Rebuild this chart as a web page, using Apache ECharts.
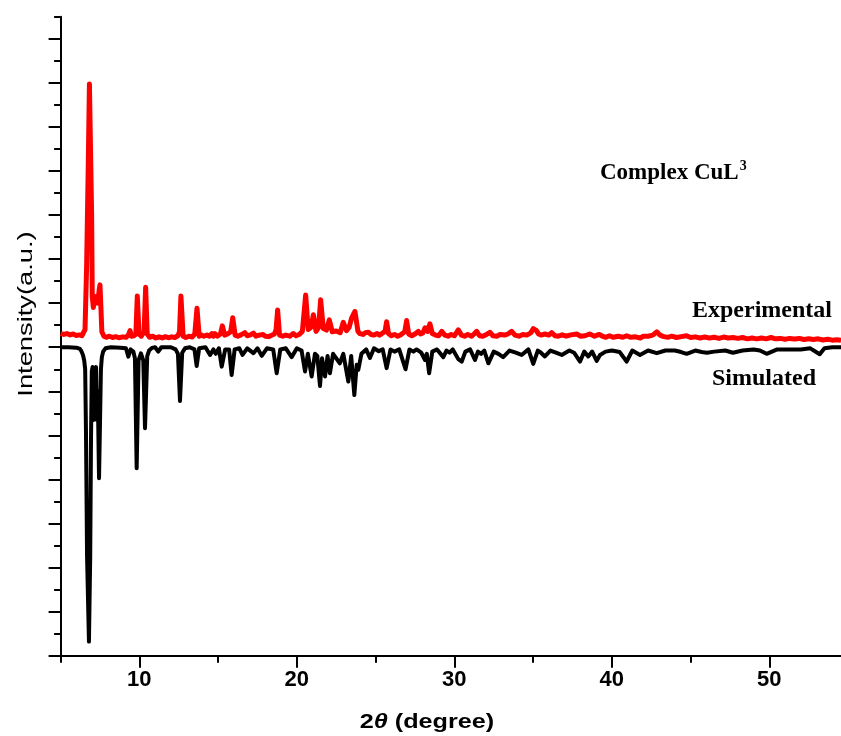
<!DOCTYPE html>
<html><head><meta charset="utf-8">
<script src="https://cdn.jsdelivr.net/npm/echarts@6/dist/echarts.min.js"></script>
<style>html,body{margin:0;padding:0;background:#fff;overflow:hidden}#c{width:841px;height:736px}</style>
</head><body><div id="c"></div>
<script>
// Experimental pattern (red), [2theta, intensity]
const experimental = [
[5.0,0.62],[5.2,0.58],[5.4,0.62],[5.6,0.56],[5.8,0.6],[6.0,0.53],[6.2,0.56],[6.35,0.52],[6.45,0.58],[6.55,0.8],[6.65,3.6],[6.75,8],[6.83,11.95],[6.92,11.9],[6.97,6],[7.01,2.3],[7.08,1.8],[7.14,2.3],[7.2,2.0],[7.28,2.3],[7.36,2.0],[7.45,2.6],[7.5,2.83],[7.56,1.8],[7.62,0.7],
[7.75,0.5],[7.9,0.45],[8.1,0.5],[8.3,0.44],[8.5,0.48],[8.7,0.43],[8.95,0.47],[9.15,0.45],[9.3,0.55],[9.41,0.75],[9.5,0.5],[9.65,0.52],[9.78,0.6],[9.87,2.33],[9.98,0.6],[10.12,0.5],[10.3,0.7],[10.4,2.72],[10.5,0.6],[10.65,0.45],[10.85,0.5],[11.05,0.42],[11.25,0.47],[11.45,0.42],[11.65,0.48],[11.85,0.43],[12.05,0.47],[12.25,0.44],[12.45,0.52],[12.55,0.7],[12.64,2.33],[12.78,0.5],[12.95,0.44],[13.15,0.5],[13.35,0.46],[13.52,0.6],[13.66,1.77],[13.8,0.5],[13.95,0.55],[14.1,0.5],[14.3,0.55],[14.45,0.5],[14.61,0.62],[14.7,0.5],[14.8,0.62],[14.95,0.5],[15.15,0.6],[15.27,0.97],[15.42,0.55],[15.6,0.6],[15.8,0.7],[15.93,1.34],[16.08,0.55],[16.25,0.5],[16.45,0.56],[16.7,0.66],[16.85,0.52],[17.05,0.56],[17.24,0.64],[17.4,0.5],[17.6,0.55],[17.85,0.58],[18.0,0.5],[18.2,0.48],[18.4,0.54],[18.58,0.6],[18.68,0.8],[18.78,1.69],[18.9,0.55],[19.1,0.5],[19.3,0.55],[19.55,0.5],[19.77,0.62],[19.95,0.52],[20.15,0.58],[20.35,0.72],[20.56,2.37],[20.72,0.8],[20.9,0.9],[21.05,1.47],[21.22,0.72],[21.38,0.9],[21.51,2.15],[21.68,0.85],[21.88,0.78],[22.06,1.24],[22.25,0.7],[22.5,0.74],[22.75,0.66],[22.95,1.13],[23.15,0.75],[23.32,0.9],[23.48,1.33],[23.69,1.62],[23.88,0.72],[24.0,0.62],[24.2,0.58],[24.35,0.66],[24.54,0.68],[24.7,0.58],[24.9,0.55],[25.1,0.62],[25.25,0.55],[25.4,0.62],[25.6,0.72],[25.7,1.16],[25.82,0.62],[26.0,0.52],[26.2,0.58],[26.4,0.5],[26.6,0.57],[26.85,0.7],[26.97,1.21],[27.1,0.6],[27.3,0.52],[27.5,0.6],[27.71,0.72],[27.85,0.6],[28.0,0.65],[28.14,0.88],[28.3,0.72],[28.45,1.06],[28.6,0.62],[28.8,0.55],[29.0,0.52],[29.2,0.72],[29.4,0.55],[29.6,0.5],[29.8,0.58],[30.0,0.52],[30.25,0.79],[30.45,0.55],[30.65,0.5],[30.85,0.58],[31.1,0.5],[31.25,0.6],[31.42,0.72],[31.6,0.52],[31.8,0.5],[32.0,0.56],[32.26,0.68],[32.45,0.52],[32.7,0.5],[32.9,0.58],[33.2,0.55],[33.4,0.6],[33.64,0.72],[33.85,0.55],[34.1,0.5],[34.35,0.58],[34.6,0.55],[34.85,0.65],[35.01,0.84],[35.2,0.76],[35.35,0.6],[35.5,0.55],[35.75,0.6],[36.0,0.55],[36.18,0.66],[36.4,0.52],[36.6,0.5],[36.85,0.56],[37.1,0.5],[37.4,0.56],[37.77,0.6],[38.0,0.5],[38.3,0.52],[38.6,0.6],[38.9,0.5],[39.2,0.58],[39.4,0.5],[39.6,0.45],[39.85,0.52],[40.1,0.45],[40.4,0.5],[40.7,0.45],[40.94,0.52],[41.2,0.45],[41.5,0.47],[41.8,0.42],[42.0,0.5],[42.3,0.5],[42.6,0.55],[42.85,0.7],[43.05,0.55],[43.3,0.48],[43.55,0.45],[43.8,0.5],[44.1,0.44],[44.4,0.48],[44.75,0.52],[45.0,0.44],[45.3,0.47],[45.6,0.42],[45.9,0.46],[46.2,0.42],[46.5,0.45],[46.8,0.4],[47.1,0.46],[47.4,0.42],[47.7,0.44],[48.0,0.4],[48.3,0.44],[48.6,0.38],[48.9,0.42],[49.2,0.38],[49.5,0.42],[49.8,0.38],[50.1,0.44],[50.4,0.38],[50.7,0.4],[51.0,0.36],[51.3,0.4],[51.6,0.37],[51.9,0.4],[52.2,0.35],[52.5,0.38],[52.8,0.35],[53.1,0.38],[53.4,0.33],[53.7,0.36],[54.0,0.32],[54.3,0.34],[54.55,0.32]
];
// Simulated pattern (black, plotted downward)
const simulated = [
[5.0,0],[5.5,0],[6.0,-0.02],[6.23,-0.08],[6.32,-0.18],[6.42,-0.35],[6.5,-0.6],[6.56,-1.0],[6.61,-3.75],[6.68,-9.5],[6.8,-13.36],[6.88,-9.5],[6.93,-4.2],[6.98,-1.1],[7.03,-0.9],[7.08,-3.3],[7.14,-3.2],[7.2,-1.0],[7.25,-0.9],[7.3,-3.3],[7.36,-2.0],[7.44,-5.95],[7.5,-3.5],[7.56,-1.0],[7.62,-0.45],[7.7,-0.2],[7.85,-0.05],
[8.2,0],[8.8,-0.02],[9.15,-0.05],[9.3,-0.43],[9.45,-0.1],[9.62,-0.2],[9.72,-0.5],[9.83,-5.49],[9.95,-0.6],[10.1,-0.28],[10.25,-0.6],[10.36,-3.68],[10.5,-0.4],[10.62,-0.15],[10.8,-0.03],[11.0,0],[11.2,-0.2],[11.4,0],[12.0,0],[12.3,-0.1],[12.45,-0.3],[12.58,-2.44],[12.72,-0.25],[12.9,-0.05],[13.2,0],[13.5,-0.1],[13.64,-0.85],[13.8,-0.05],[14.2,0],[14.49,-0.35],[14.7,-0.1],[14.85,-0.3],[15.05,-0.05],[15.23,-0.88],[15.45,-0.1],[15.7,-0.1],[15.86,-1.26],[16.05,-0.1],[16.35,-0.05],[16.55,-0.35],[16.85,-0.05],[17.24,-0.27],[17.5,-0.05],[17.77,-0.39],[18.1,-0.05],[18.5,-0.1],[18.72,-1.18],[18.95,-0.1],[19.3,-0.05],[19.67,-0.45],[20.0,-0.05],[20.3,-0.15],[20.52,-1.1],[20.7,-0.3],[20.94,-1.33],[21.15,-0.3],[21.3,-0.4],[21.47,-1.76],[21.6,-0.5],[21.79,-1.33],[21.95,-0.4],[22.1,-1.18],[22.3,-0.3],[22.5,-0.5],[22.73,-0.73],[22.95,-0.3],[23.27,-1.56],[23.45,-0.4],[23.65,-2.17],[23.8,-0.8],[23.9,-1.03],[24.1,-0.3],[24.4,-0.1],[24.64,-0.49],[24.9,-0.05],[25.2,-0.18],[25.45,-0.1],[25.7,-0.95],[25.95,-0.1],[26.2,-0.2],[26.5,-0.1],[26.9,-1.0],[27.15,-0.1],[27.4,-0.2],[27.6,-0.1],[27.9,-0.25],[28.14,-0.58],[28.25,-0.3],[28.4,-1.18],[28.6,-0.2],[28.9,-0.1],[29.3,-0.45],[29.5,-0.15],[29.7,-0.25],[29.9,-0.1],[30.25,-0.54],[30.47,-0.65],[30.7,-0.2],[31.0,-0.1],[31.31,-0.58],[31.5,-0.2],[31.7,-0.3],[31.9,-0.15],[32.16,-0.73],[32.5,-0.2],[32.8,-0.3],[33.1,-0.45],[33.5,-0.15],[33.9,-0.25],[34.27,-0.35],[34.7,-0.1],[35.01,-0.76],[35.3,-0.15],[35.5,-0.25],[35.75,-0.42],[36.1,-0.15],[36.45,-0.25],[36.82,-0.35],[37.3,-0.15],[37.6,-0.25],[37.98,-0.65],[38.25,-0.2],[38.5,-0.42],[38.75,-0.2],[39.04,-0.62],[39.25,-0.35],[39.6,-0.2],[40.0,-0.15],[40.5,-0.22],[40.94,-0.65],[41.3,-0.15],[41.79,-0.35],[42.3,-0.15],[42.85,-0.27],[43.4,-0.15],[44.0,-0.15],[44.4,-0.22],[44.75,-0.3],[45.3,-0.15],[45.7,-0.22],[46.04,-0.25],[46.5,-0.2],[47.2,-0.15],[47.69,-0.25],[48.3,-0.15],[49.0,-0.1],[49.4,-0.15],[49.83,-0.3],[50.5,-0.1],[51.2,-0.1],[52.0,-0.1],[52.6,-0.05],[53.2,-0.32],[53.5,-0.05],[54.0,0],[54.55,0]
];
const xMajorTicks = [10, 20, 30, 40, 50];
const xMinorTicks = [5, 15, 25, 35, 45];
const yMajorTicks = [-14, -12, -10, -8, -6, -4, -2, 0, 2, 4, 6, 8, 10, 12, 14];
const yMinorTicks = [-13, -11, -9, -7, -5, -3, -1, 1, 3, 5, 7, 9, 11, 13, 15];
const xRange = [5, 54.55];
const yRange = [-14, 15];

const chart = echarts.init(document.getElementById('c'), null, {renderer: 'canvas'});
const axisColor = '#000';
const labelFont = {color: '#000', fontSize: 22, fontWeight: 'bold', fontFamily: 'Liberation Sans, Arial, sans-serif'};
chart.setOption({
  animation: false,
  backgroundColor: '#fff',
  grid: [{left: 60.6, top: 16.7, width: 780.4, height: 639}],
  xAxis: [
    {type: 'value', position: 'bottom', min: xRange[0], max: xRange[1], interval: 5,
     axisLine: {show: true, onZero: false, lineStyle: {color: axisColor, width: 2}},
     axisTick: {show: true, length: 7, customValues: xMinorTicks, lineStyle: {color: axisColor, width: 2}},
     axisLabel: {show: false}, splitLine: {show: false}},
    {type: 'value', position: 'bottom', offset: 0, min: xRange[0], max: xRange[1], interval: 5,
     axisLine: {show: false, onZero: false},
     axisTick: {show: true, length: 12, customValues: xMajorTicks, lineStyle: {color: axisColor, width: 2}},
     axisLabel: Object.assign({show: true, margin: 13, customValues: xMajorTicks}, labelFont),
     splitLine: {show: false}}
  ],
  yAxis: [
    {type: 'value', position: 'left', min: yRange[0], max: yRange[1], interval: 1,
     axisLine: {show: true, onZero: false, lineStyle: {color: axisColor, width: 2}},
     axisTick: {show: true, length: 6.5, customValues: yMinorTicks, lineStyle: {color: axisColor, width: 2}},
     axisLabel: {show: false}, splitLine: {show: false}},
    {type: 'value', position: 'left', offset: 0, min: yRange[0], max: yRange[1], interval: 1,
     axisLine: {show: false, onZero: false},
     axisTick: {show: true, length: 12, customValues: yMajorTicks, lineStyle: {color: axisColor, width: 2}},
     axisLabel: {show: false}, splitLine: {show: false}}
  ],
  series: [
    {name: 'Simulated', type: 'line', xAxisIndex: 0, yAxisIndex: 0, data: simulated, showSymbol: false, symbol: 'none',
     lineStyle: {color: '#000', width: 4, join: 'round'}, z: 3},
    {name: 'Experimental', type: 'line', xAxisIndex: 0, yAxisIndex: 0, data: experimental, showSymbol: false, symbol: 'none',
     lineStyle: {color: '#ff0000', width: 5, join: 'round'}, z: 4}
  ],
  graphic: [
    {type: 'text', x: 26, y: 314, rotation: Math.PI / 2, scaleX: 1.3,
     style: {text: 'Intensity(a.u.)', font: '21px "Liberation Sans", Arial, sans-serif', fill: '#000', align: 'center', verticalAlign: 'middle'}},
    {type: 'text', x: 427, y: 722, scaleX: 1.2,
     style: {text: '{a|2}{b|θ}{a| (degree)}', align: 'center', verticalAlign: 'middle', fill: '#000',
       rich: {a: {fontSize: 21, fontWeight: 'bold', fontFamily: 'Liberation Sans, Arial, sans-serif', fill: '#000'},
              b: {fontSize: 21, fontWeight: 'bold', fontStyle: 'italic', fontFamily: 'Liberation Sans, Arial, sans-serif', fill: '#000'}}}},
    {type: 'text', x: 600, y: 173,
     style: {text: '{a|Complex CuL}{s|3}', align: 'left', verticalAlign: 'middle', fill: '#000',
       rich: {a: {fontSize: 23, fontWeight: 'bold', fontFamily: 'Liberation Serif, Times New Roman, serif', fill: '#000', lineHeight: 27},
              s: {fontSize: 14, fontWeight: 'bold', fontFamily: 'Liberation Serif, Times New Roman, serif', fill: '#000', verticalAlign: 'top', lineHeight: 27, padding: [0, 0, 0, 1]}}}},
    {type: 'text', x: 692, y: 311,
     style: {text: 'Experimental', font: 'bold 24px "Liberation Serif", "Times New Roman", serif', fill: '#000', align: 'left', verticalAlign: 'middle'}},
    {type: 'text', x: 712, y: 379,
     style: {text: 'Simulated', font: 'bold 24px "Liberation Serif", "Times New Roman", serif', fill: '#000', align: 'left', verticalAlign: 'middle'}}
  ]
});
</script>
</body></html>
